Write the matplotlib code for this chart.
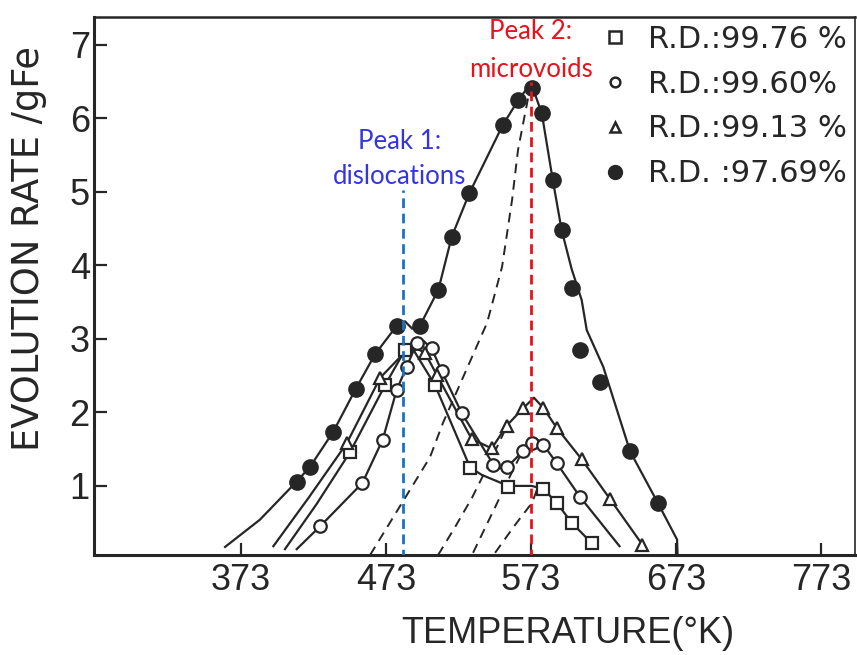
import matplotlib.pyplot as plt
from matplotlib.lines import Line2D

ink = '#262626'

# R.D. 99.76 %  (open squares)
sq_T = [448.2, 472.3, 486.1, 506.8, 531.0, 557.3, 581.5, 590.7, 601.0, 614.9]
sq_v = [1.46, 2.37, 2.85, 2.37, 1.25, 0.99, 0.96, 0.77, 0.50, 0.22]
sq_curve_T = [403.3, 425.0, 448.2, 472.3, 486.1, 491.0, 506.8, 531.0, 539.0, 557.3, 573.4, 581.5, 590.7, 601.0, 614.9]
sq_curve_v = [0.14, 0.75, 1.46, 2.37, 2.85, 2.88, 2.37, 1.25, 1.15, 1.00, 1.00, 0.96, 0.77, 0.50, 0.22]

# R.D. 99.60 %  (open circles)
oc_T = [427.5, 456.7, 470.7, 480.4, 487.2, 494.1, 504.5, 511.4, 525.2, 547.0, 556.7, 567.3, 573.5, 581.5, 590.7, 606.8]
oc_v = [0.45, 1.04, 1.63, 2.31, 2.62, 2.94, 2.87, 2.56, 1.99, 1.29, 1.26, 1.47, 1.59, 1.56, 1.31, 0.85]
oc_curve_T = [411.4, 427.5, 456.7, 470.7, 480.4, 487.2, 494.1, 499.0, 504.5, 511.4, 525.2, 547.0, 551.0, 556.7, 567.3, 575.8, 581.5, 590.7, 606.8, 634.0]
oc_curve_v = [0.14, 0.45, 1.04, 1.63, 2.31, 2.62, 2.94, 2.97, 2.87, 2.56, 1.99, 1.29, 1.24, 1.26, 1.47, 1.65, 1.56, 1.31, 0.85, 0.18]

# R.D. 99.13 %  (open triangles)
tr_T = [445.9, 468.9, 499.9, 508.0, 532.0, 545.9, 556.2, 567.7, 581.5, 590.7, 608.0, 627.5, 649.8]
tr_v = [1.58, 2.47, 2.81, 2.51, 1.64, 1.51, 1.82, 2.06, 2.06, 1.79, 1.36, 0.82, 0.20]
tr_curve_T = [395.3, 420.0, 445.9, 468.9, 485.0, 495.0, 499.9, 508.0, 532.0, 545.9, 556.2, 567.7, 575.0, 581.5, 590.7, 608.0, 627.5, 649.8]
tr_curve_v = [0.18, 0.85, 1.58, 2.47, 2.80, 2.86, 2.81, 2.51, 1.64, 1.51, 1.82, 2.06, 2.20, 2.06, 1.79, 1.36, 0.82, 0.20]

# R.D. 97.69 %  (filled circles)
fc_T = [411.4, 420.6, 436.7, 452.1, 465.4, 480.4, 496.4, 509.1, 518.3, 530.4, 553.5, 564.2, 573.5,
        580.4, 588.0, 594.1, 601.1, 606.8, 620.6, 641.3, 660.4]
fc_v = [1.06, 1.26, 1.74, 2.32, 2.79, 3.18, 3.18, 3.67, 4.39, 4.98, 5.91, 6.25, 6.42,
        6.07, 5.16, 4.48, 3.69, 2.85, 2.42, 1.47, 0.77]
fc_curve_T = [362.0, 386.0, 411.4, 420.6, 436.7, 452.1, 465.4, 480.4, 486.0, 491.0, 496.4, 509.1, 518.3,
              530.4, 553.5, 564.2, 573.0, 580.4, 588.0, 594.1, 601.0, 607.9, 611.4, 622.8, 641.3, 660.4, 673.7, 674.0]
fc_curve_v = [0.17, 0.54, 1.06, 1.26, 1.74, 2.32, 2.79, 3.18, 3.24, 3.14, 3.18, 3.67, 4.39,
              4.98, 5.91, 6.25, 6.48, 6.07, 5.16, 4.48, 3.95, 3.53, 3.12, 2.62, 1.47, 0.77, 0.27, 0.07]

# dashed second-peak components
dash_fc_T = [462.0, 503.3, 512.3, 542.7, 553.0, 559.9, 564.0, 568.9, 572.3]
dash_fc_v = [0.06, 1.39, 1.86, 3.22, 3.98, 4.89, 5.57, 6.07, 6.41]
dash_tr_T = [508.9, 520.6, 532.3, 544.7, 555.1]
dash_tr_v = [0.06, 0.44, 0.84, 1.33, 1.76]
dash_oc_T = [533.0, 548.2, 559.9, 566.8]
dash_oc_v = [0.09, 0.71, 1.19, 1.46]
dash_sq_T = [548.2, 562.0, 573.7, 577.1]
dash_sq_v = [0.09, 0.47, 0.77, 0.95]

peak1_T = 485
peak1_top = 5.03
peak2_T = 573
peak2_top = 6.5

xticks = [373, 473, 573, 673, 773]
yticks = [1, 2, 3, 4, 5, 6, 7]
labels = ['R.D.:99.76 %', 'R.D.:99.60%', 'R.D.:99.13 %', 'R.D. :97.69%']

plt.rcParams['font.family'] = 'Liberation Sans'

fig = plt.figure(figsize=(8.57, 6.55), dpi=100)
ax = fig.add_axes([94 / 857, 1 - 555 / 655, 761 / 857, 538 / 655])

lw = 1.6
ax.plot(sq_curve_T, sq_curve_v, color=ink, lw=lw, zorder=2)
ax.plot(oc_curve_T, oc_curve_v, color=ink, lw=lw, zorder=2)
ax.plot(tr_curve_T, tr_curve_v, color=ink, lw=lw, zorder=2)
ax.plot(fc_curve_T, fc_curve_v, color=ink, lw=lw, zorder=2)

for T, v in [(dash_fc_T, dash_fc_v), (dash_tr_T, dash_tr_v), (dash_oc_T, dash_oc_v), (dash_sq_T, dash_sq_v)]:
    ax.plot(T, v, color=ink, lw=1.4, dashes=(5, 3.5), zorder=2)

ax.plot(sq_T, sq_v, ls='none', marker='s', ms=8.5, mfc='white', mec=ink, mew=1.6, zorder=3)
ax.plot(oc_T, oc_v, ls='none', marker='o', ms=9, mfc='white', mec=ink, mew=1.6, zorder=3)
ax.plot(tr_T, tr_v, ls='none', marker='^', ms=9, mfc='white', mec=ink, mew=1.6, zorder=3)
ax.plot(fc_T, fc_v, ls='none', marker='o', ms=11, mfc=ink, mec=ink, zorder=3)

ax.plot([peak1_T, peak1_T], [0, peak1_top], color='#1a73c2', lw=2, dashes=(3.5, 2), zorder=4)
ax.plot([peak2_T, peak2_T], [0, peak2_top], color='#e5131c', lw=2, dashes=(3.5, 2), zorder=4)

ax.text(peak1_T - 2.5, 5.45, 'Peak 1:\ndislocations', color='#3535e0', fontsize=18.5,
        family='Lato', ha='center', va='center', linespacing=1.5)
ax.text(peak2_T, 6.93, 'Peak 2:\nmicrovoids', color='#e5131c', fontsize=18.5,
        family='Lato', ha='center', va='center', linespacing=1.65)

handles = [
    Line2D([], [], ls='none', marker='s', ms=8, mfc='white', mec=ink, mew=1.8),
    Line2D([], [], ls='none', marker='o', ms=7, mfc='white', mec=ink, mew=1.8),
    Line2D([], [], ls='none', marker='^', ms=7, mfc='white', mec=ink, mew=1.8),
    Line2D([], [], ls='none', marker='o', ms=10, mfc=ink, mec=ink),
]
leg = ax.legend(handles, labels, loc='upper right', bbox_to_anchor=(1.0, 1.0), frameon=False,
                prop={'family': 'DejaVu Sans', 'size': 22}, handlelength=0.6, handletextpad=0.8,
                labelspacing=0.52, borderpad=0.1, borderaxespad=0.15)
for t in leg.get_texts():
    t.set_color(ink)

ax.set_xlim(271.6, 796.4)
ax.set_ylim(0.06, 7.38)
ax.set_xticks(xticks)
ax.set_yticks(yticks)
ax.tick_params(direction='in', length=9, width=1.6, colors=ink, labelsize=26, pad=6)
ax.tick_params(axis='y', pad=3)
for s in ax.spines.values():
    s.set_color(ink)
    s.set_linewidth(2.2)
ax.spines['right'].set_linewidth(1.2)
ax.spines['top'].set_linewidth(1.8)

ax.set_xlabel('TEMPERATURE(°K)', fontsize=26, color=ink)
ax.set_ylabel('EVOLUTION RATE /gFe', fontsize=26.5, color=ink, family='DejaVu Sans')
ax.xaxis.label.set_va('center')
ax.yaxis.label.set_va('center')
ax.xaxis.set_label_coords(0.623, -0.145)
ax.yaxis.set_label_coords(-0.086, 0.569)

fig.savefig('out.png', dpi=100)
